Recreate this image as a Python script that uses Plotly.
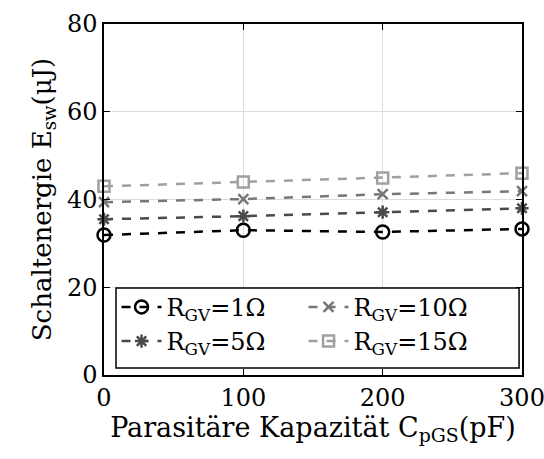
import plotly.graph_objects as go

x_vals = [0, 100, 200, 300]
e_1 = [31.9, 33.0, 32.6, 33.3]
e_5 = [35.5, 36.2, 37.1, 38.0]
e_10 = [39.4, 40.1, 41.2, 41.9]
e_15 = [43.0, 44.0, 44.9, 46.0]

series = [
    ("R<sub>GV</sub>=1Ω", e_1, "#000000", "circle-open", 13, 1),
    ("R<sub>GV</sub>=5Ω", e_5, "#4a4a4a", "asterisk-open", 11, 3),
    ("R<sub>GV</sub>=10Ω", e_10, "#777777", "x-thin-open", 10, 2),
    ("R<sub>GV</sub>=15Ω", e_15, "#a0a0a0", "square-open", 11, 4),
]

font = "DejaVu Serif"
fig = go.Figure()
for name, ys, col, sym, sz, rank in series:
    fig.add_trace(go.Scatter(
        x=x_vals, y=ys, name=name, mode="lines+markers",
        line=dict(color=col, width=2.5, dash="dash"),
        marker=dict(symbol=sym, size=sz, color=col, line=dict(color=col, width=2.5)),
        legendrank=rank, cliponaxis=False,
    ))

axis_common = dict(
    showline=True, linecolor="black", linewidth=1.5, mirror="ticks",
    ticks="inside", ticklen=6, tickcolor="black", tickwidth=1,
    showgrid=True, gridcolor="#dcdcdc", gridwidth=1, zeroline=False,
    tickfont=dict(family=font, size=24, color="black"),
    ticklabeloverflow="allow", automargin=False,
)
fig.update_xaxes(range=[0, 300], tickvals=[0, 100, 200, 300],
                 title=dict(text="Parasitäre Kapazität C<sub>pGS</sub>(pF)",
                            font=dict(family=font, size=27, color="black"), standoff=2),
                 **axis_common)
fig.update_yaxes(range=[0, 80], tickvals=[0, 20, 40, 60, 80],
                 title=dict(text="Schaltenergie E<sub>sw</sub>(μJ)",
                            font=dict(family=font, size=26, color="black"), standoff=8),
                 **axis_common)

# legend frame (drawn as a shape so its size matches the reference)
fig.add_shape(type="rect", xref="paper", yref="paper",
              x0=0.0287, x1=0.993, y0=0.02, y1=0.248,
              line=dict(color="black", width=1.5), fillcolor="white", layer="above")

fig.update_layout(
    width=544, height=459,
    margin=dict(l=104, r=22, t=24, b=84),
    plot_bgcolor="white", paper_bgcolor="white",
    legend=dict(
        orientation="h", x=0.03, y=0.257, xanchor="left", yanchor="top",
        entrywidth=132, bgcolor="rgba(0,0,0,0)", borderwidth=0,
        font=dict(family=font, size=24, color="black"),
        tracegroupgap=0, itemwidth=40,
    ),
    showlegend=True,
)

fig.write_html("out.html")
